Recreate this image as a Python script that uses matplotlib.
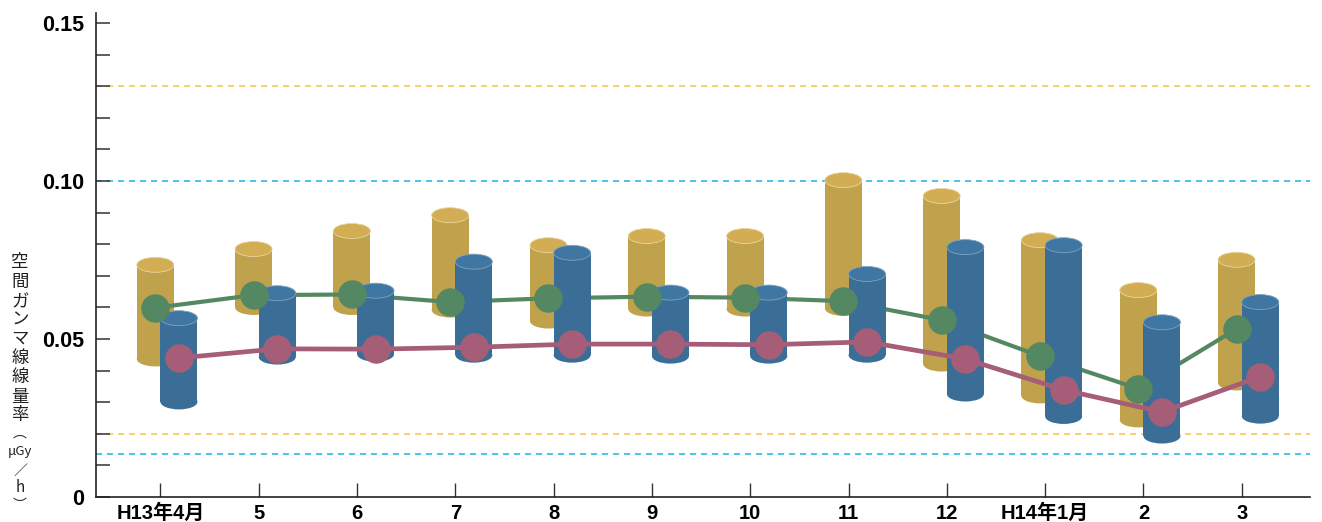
import matplotlib
matplotlib.use("Agg")
import matplotlib.pyplot as plt
from matplotlib.patches import Rectangle, Ellipse
import numpy as np

plt.rcParams['font.family'] = ['Liberation Sans', 'Noto Sans CJK JP', 'DejaVu Sans']

months = ['H13年4月', '5', '6', '7', '8', '9', '10', '11', '12', 'H14年1月', '2', '3']

# gold station: min / max / mean
gold_max = [0.0735, 0.0785, 0.0842, 0.0892, 0.0797, 0.0826, 0.0826, 0.1003, 0.0953, 0.0813, 0.0655, 0.0751]
gold_min = [0.0437, 0.0600, 0.0600, 0.0592, 0.0557, 0.0595, 0.0595, 0.0597, 0.0421, 0.0320, 0.0244, 0.0361]
gold_avg = [0.0599, 0.0639, 0.0641, 0.0617, 0.0629, 0.0634, 0.0631, 0.0620, 0.0560, 0.0446, 0.0343, 0.0532]

# blue station: min / max / mean
blue_max = [0.0566, 0.0645, 0.0653, 0.0745, 0.0773, 0.0647, 0.0647, 0.0706, 0.0791, 0.0797, 0.0553, 0.0617]
blue_min = [0.0301, 0.0443, 0.0452, 0.0449, 0.0449, 0.0446, 0.0446, 0.0449, 0.0326, 0.0255, 0.0193, 0.0256]
blue_avg = [0.0440, 0.0469, 0.0468, 0.0474, 0.0484, 0.0484, 0.0482, 0.0491, 0.0437, 0.0339, 0.0269, 0.0381]

gold_limits = [0.13, 0.02]
blue_limits = [0.10, 0.0135]

ylabel_chars = ['空', '間', 'ガ', 'ン', 'マ', '線', '線', '量', '率', '︵', 'μGy', '／', 'h', '︶']

GOLD = '#c1a24c'
GOLD_TOP = '#d2ad53'
BLUE = '#3a6e97'
BLUE_TOP = '#3f77a2'
GREEN = '#548862'
PINK = '#a65e78'

fig = plt.figure(figsize=(13.22, 5.22), dpi=100)
ax = fig.add_axes([96 / 1322, 25 / 522, (1310 - 96) / 1322, (497 - 12.7) / 522])
ax.set_xlim(-0.656, 11.694)
ax.set_ylim(0, 0.1533)

x = np.arange(len(months))
w = 0.376
cap_h = 0.00475
gold_x = x - 0.053
blue_x = x + 0.188


def cylinder(cx, lo, hi, body, top, z):
    ax.add_patch(Rectangle((cx - w / 2, lo), w, hi - lo, facecolor=body, edgecolor='none', zorder=z))
    ax.add_patch(Ellipse((cx, lo), w, cap_h, facecolor=body, edgecolor='none', zorder=z))
    ax.add_patch(Ellipse((cx, hi), w, cap_h, facecolor=top, edgecolor='#e8d6a0' if body == GOLD else '#7fa3c0',
                         linewidth=0.6, zorder=z + 0.01))


for gx, lo, hi in zip(gold_x, gold_min, gold_max):
    cylinder(gx, lo, hi, GOLD, GOLD_TOP, 2)
for bx, lo, hi in zip(blue_x, blue_min, blue_max):
    cylinder(bx, lo, hi, BLUE, BLUE_TOP, 4)

ax.plot(gold_x, gold_avg, color=GREEN, lw=3.0, zorder=3, solid_capstyle='round')
ax.plot(gold_x, gold_avg, 'o', color=GREEN, ms=19.5, zorder=5)
ax.plot(blue_x, blue_avg, color=PINK, lw=3.4, marker='o', ms=19.5, zorder=6)

for v in gold_limits:
    ax.axhline(v, color='#f6c447', lw=1.1, ls=(0, (4, 3.2)), zorder=1)
for v in blue_limits:
    ax.axhline(v, color='#1ab4e6', lw=1.1, ls=(0, (4, 3.2)), zorder=1)

ax.spines['top'].set_visible(False)
ax.spines['right'].set_visible(False)
for s in ['left', 'bottom']:
    ax.spines[s].set_color('#222222')
    ax.spines[s].set_linewidth(1.2)

ax.set_yticks([0, 0.05, 0.10, 0.15])
ax.set_yticklabels(['0', '0.05', '0.10', '0.15'])
ax.set_yticks(np.arange(0, 0.151, 0.01), minor=True)
ax.tick_params(axis='y', which='both', direction='in', length=10, width=1.1, color='#333333', pad=8.5)
ax.set_xticks(x)
ax.set_xticklabels(months)
ax.tick_params(axis='x', direction='in', length=10, width=1.0, color='#333333', pad=5)
for lab in ax.get_yticklabels():
    lab.set_fontweight('bold')
    lab.set_fontsize(15.5)
for lab in ax.get_xticklabels():
    lab.set_fontweight('bold')
    lab.set_fontsize(14.5)

rows = [262, 282, 302, 320, 339, 358, 377, 397, 415, 433, 452, 471, 488, 505]
sizes = [12.5] * 9 + [10, 9.5, 10, 11, 10]
for ch, yy, fs in zip(ylabel_chars, rows, sizes):
    fig.text(20 / 1322, 1 - yy / 522, ch, ha='center', va='center', fontsize=fs, color='#222222',
             family=['Noto Sans CJK JP', 'DejaVu Sans'])

fig.savefig('out.png', dpi=100)
